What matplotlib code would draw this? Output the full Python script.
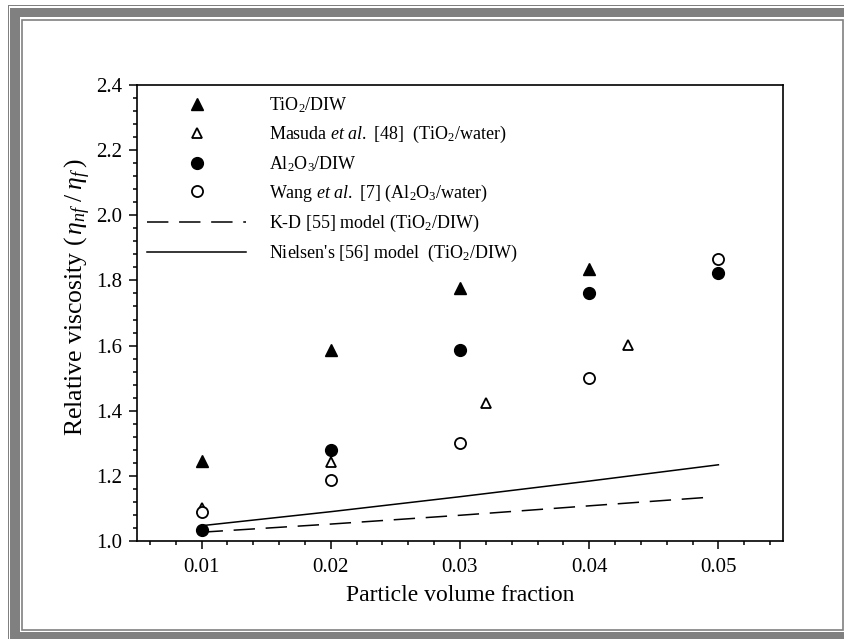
import matplotlib
matplotlib.use('Agg')
import matplotlib.pyplot as plt
from matplotlib.patches import Rectangle
from matplotlib.ticker import MultipleLocator

plt.rcParams['font.family'] = ['Liberation Serif', 'DejaVu Serif']
plt.rcParams['mathtext.fontset'] = 'custom'
plt.rcParams['mathtext.rm'] = 'Liberation Serif'
plt.rcParams['mathtext.it'] = 'Liberation Serif:italic'
plt.rcParams['mathtext.bf'] = 'Liberation Serif:bold'

# measured data
tio2_x = [0.01, 0.02, 0.03, 0.04]
tio2_y = [1.245, 1.585, 1.778, 1.836]

masuda_x = [0.01, 0.02, 0.032, 0.043]
masuda_y = [1.10, 1.244, 1.424, 1.601]

al2o3_x = [0.01, 0.02, 0.03, 0.04, 0.05]
al2o3_y = [1.034, 1.28, 1.585, 1.762, 1.824]

wang_x = [0.01, 0.02, 0.03, 0.04, 0.05]
wang_y = [1.09, 1.186, 1.30, 1.50, 1.865]

# model curves
kd_x = [0.01, 0.02, 0.03, 0.04, 0.0495]
kd_y = [1.027, 1.052, 1.079, 1.108, 1.135]

nielsen_x = [0.01, 0.02, 0.03, 0.04, 0.05]
nielsen_y = [1.047, 1.09, 1.136, 1.184, 1.234]

fig = plt.figure(figsize=(8.45, 6.39), dpi=100)

# grey picture frame (pixel coordinates)
bg = fig.add_axes([0, 0, 1, 1], zorder=-1)
bg.set_xlim(0, 845)
bg.set_ylim(639, 0)
bg.axis('off')
grey = '#808080'
bg.add_patch(Rectangle((8, 5), 900, 700, facecolor=grey, edgecolor='none'))
bg.add_patch(Rectangle((9.2, 6.2), 900, 700, facecolor='white', edgecolor='none'))
bg.add_patch(Rectangle((10.5, 7.5), 900, 700, facecolor=grey, edgecolor='none'))
bg.add_patch(Rectangle((20, 17), 825, 615, facecolor='white', edgecolor='none'))
bg.add_patch(Rectangle((22.5, 20), 820.5, 609.5, facecolor='none', edgecolor=grey, lw=1.2))

ax = fig.add_axes([137 / 845, 1 - 541 / 639, 646 / 845, 456 / 639])

ax.plot(tio2_x, tio2_y, '^', color='black', ms=8, label='TiO$_2$/DIW')
ax.plot(masuda_x, masuda_y, '^', mfc='white', mec='black', mew=1.3, ms=7.5,
        label=r'Masuda $\mathit{et\ al.}$ [48]  (TiO$_2$/water)')
ax.plot(al2o3_x, al2o3_y, 'o', color='black', ms=8.5, label='Al$_2$O$_3$/DIW')
ax.plot(wang_x, wang_y, 'o', mfc='white', mec='black', mew=1.3, ms=8,
        label=r'Wang $\mathit{et\ al.}$ [7] (Al$_2$O$_3$/water)')
ax.plot(kd_x, kd_y, '-', color='black', lw=1.1, dashes=(14, 7),
        label='K-D [55] model (TiO$_2$/DIW)')
ax.plot(nielsen_x, nielsen_y, '-', color='black', lw=1.1,
        label="Nielsen's [56] model  (TiO$_2$/DIW)")

ax.set_xlim(0.005, 0.055)
ax.set_ylim(1.0, 2.4)
ax.xaxis.set_minor_locator(MultipleLocator(0.002))
ax.yaxis.set_minor_locator(MultipleLocator(0.04))
ax.set_xticks([0.01, 0.02, 0.03, 0.04, 0.05])
ax.set_xticklabels(['0.01', '0.02', '0.03', '0.04', '0.05'])
ax.set_yticks([1.0, 1.2, 1.4, 1.6, 1.8, 2.0, 2.2, 2.4])
ax.set_yticklabels(['1.0', '1.2', '1.4', '1.6', '1.8', '2.0', '2.2', '2.4'])

ax.tick_params(which='both', direction='out', width=1.1, labelsize=15,
               top=False, right=False)
ax.tick_params(which='major', length=5.5, pad=5)
ax.tick_params(axis='x', which='major', pad=6.5)
ax.tick_params(which='minor', length=3.2)
for s in ax.spines.values():
    s.set_linewidth(1.2)

ax.set_xlabel('Particle volume fraction', fontsize=17, labelpad=6)
ax.set_ylabel(r'Relative viscosity ($\,\eta_{nf}\;$/$\;\eta_{f}\,$)',
              fontsize=18.5)
ax.yaxis.set_label_coords(-0.068, 0.535)

ax.legend(loc='upper left', bbox_to_anchor=(0.0155, 0.978), frameon=False,
          fontsize=13, numpoints=1, handlelength=5.5, handletextpad=1.25,
          labelspacing=0.5, borderaxespad=0, borderpad=0)

fig.savefig('out.png', dpi=100)
